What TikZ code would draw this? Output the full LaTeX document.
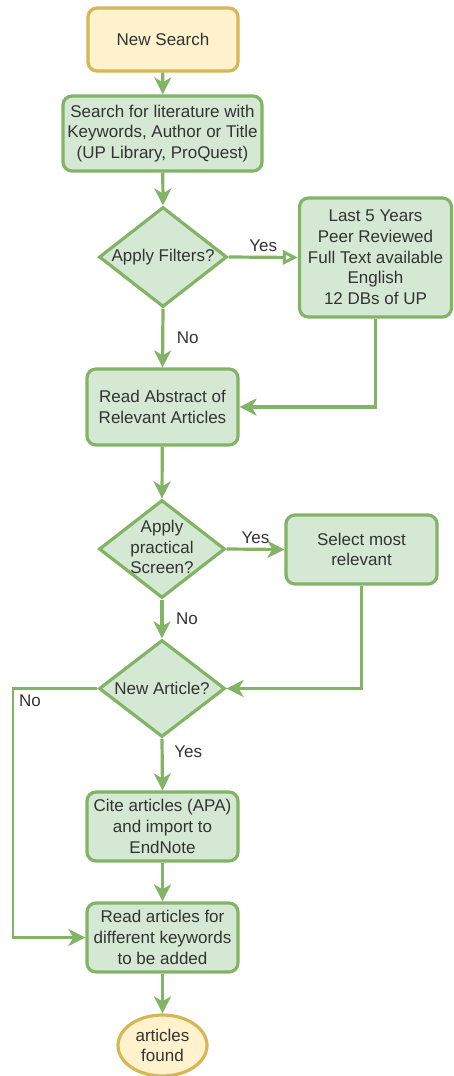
\documentclass[tikz,border=0pt]{standalone}
\usepackage{fontspec}
\setmainfont{Liberation Sans}
\usetikzlibrary{arrows.meta,shapes.geometric}

\definecolor{gfill}{HTML}{D5E8D4}
\definecolor{gline}{HTML}{82B366}
\definecolor{yfill}{HTML}{FFF2CC}
\definecolor{yline}{HTML}{D6B656}
\definecolor{ink}{HTML}{333333}

\tikzset{
  every node/.style={text=ink, font=\fontsize{17}{20.7}\selectfont},
  stepbox/.style={draw=gline, fill=gfill, line width=3.2pt, rounded corners=9pt,
    align=center, inner sep=0pt},
  startbox/.style={stepbox, draw=yline, fill=yfill},
  decision/.style={draw=gline, fill=gfill, line width=3.2pt, diamond, inner sep=0pt},
  endbox/.style={draw=yline, fill=yfill, line width=3.2pt, ellipse, inner sep=0pt, align=center},
  txt/.style={align=center, inner sep=0pt},
  flow/.style={draw=gline, line width=3.2pt, -{Stealth[length=17pt,width=17pt,inset=5pt]}},
  openflow/.style={draw=gline, line width=3.2pt, -{Triangle[open,length=15pt,width=14pt,line width=3pt]}},
  lbl/.style={inner sep=0pt},
}

\begin{document}
\begin{tikzpicture}[x=1pt,y=-1pt]
\useasboundingbox (0,0) rectangle (453,1076);
\clip (0,0) rectangle (453,1076);

% process steps
\node[startbox, minimum width=150pt, minimum height=63pt] (start) at (163,39.5) {New Search};
\node[stepbox, minimum width=199pt, minimum height=75pt] (search) at (162.5,133.5)
  {Search for literature with\\Keywords, Author or Title\\(UP Library, ProQuest)};
\node[decision, minimum width=128pt, minimum height=100pt] (filters) at (163,257) {};
\node[txt] (filterst) at (filters) {Apply Filters?};
\node[stepbox, minimum width=152pt, minimum height=119pt] (crit) at (375.5,257.5)
  {Last 5 Years\\Peer Reviewed\\Full Text available\\English\\12 DBs of UP};
\node[stepbox, minimum width=151pt, minimum height=76pt] (abstract) at (162.5,407)
  {Read Abstract of\\Relevant Articles};
\node[decision, minimum width=126pt, minimum height=98pt] (screen) at (162,549) {};
\node[txt] (screent) at (162,547) {Apply\\practical\\Screen?};
\node[stepbox, minimum width=151pt, minimum height=69pt] (select) at (361.5,549.5)
  {Select most\\relevant};
\node[decision, minimum width=126pt, minimum height=97pt] (newart) at (162,688.5) {};
\node[txt] (newartt) at (newart) {New Article?};
\node[stepbox, minimum width=151pt, minimum height=69pt] (cite) at (162.5,826.5)
  {Cite articles (APA)\\and import to\\EndNote};
\node[stepbox, minimum width=151pt, minimum height=69pt] (readmore) at (162.5,937.5)
  {Read articles for\\different keywords\\to be added};
\node[endbox, minimum width=89pt, minimum height=61pt] (found) at (162.5,1045.5)
  {articles\\found};

% loop-back corners
\coordinate (critturn) at (crit.south |- abstract.east);
\coordinate (selturn) at (select.south |- newart.east);
\coordinate (notop) at (13,688.5);
\coordinate (nobot) at (13,937.5);

% connectors
\draw[flow] (start) -- (search);
\draw[flow] (search) -- (filters.north);
\draw[openflow] (filters.east) -- node[lbl, yshift=12pt] (yes1) {Yes} (crit.west);
\draw[flow] (filters.south) -- node[lbl, xshift=25pt] (no1) {No} (abstract.north);
\draw[flow] (crit.south) -- (critturn) -- (abstract.east);
\draw[flow] (abstract) -- (screen.north);
\draw[flow] (screen.east) -- node[lbl, yshift=12pt] (yes2) {Yes} (select.west);
\draw[flow] (screen.south) -- node[lbl, xshift=25pt] (no2) {No} (newart.north);
\draw[flow] (select.south) -- (selturn) -- (newart.east);
\draw[flow] (newart.south) -- node[lbl, pos=0.25, xshift=26pt] (yes3) {Yes} (cite.north);
\draw[flow, line width=2.6pt] (newart.west) -- (notop) -- (nobot) -- (readmore.west);
\node[lbl, anchor=north west] (no3) at ([xshift=6pt,yshift=-6pt]notop) {No};
\draw[flow] (cite) -- (readmore);
\draw[flow] (readmore) -- (found);
\end{tikzpicture}
\end{document}
